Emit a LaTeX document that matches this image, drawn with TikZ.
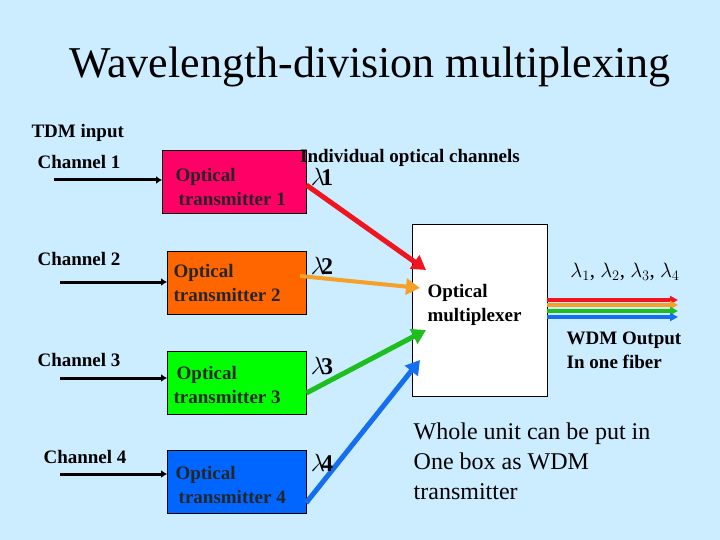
\documentclass[tikz,border=0pt]{standalone}
\usepackage{fontspec}
\setmainfont{Liberation Serif}
\usetikzlibrary{arrows.meta}
\definecolor{bg}{RGB}{204,236,255}
\definecolor{c1}{RGB}{255,0,102}
\definecolor{c2}{RGB}{255,102,0}
\definecolor{c3}{RGB}{0,255,0}
\definecolor{c4}{RGB}{0,102,255}
\definecolor{lr}{RGB}{240,20,30}
\definecolor{lo}{RGB}{245,160,40}
\definecolor{lg}{RGB}{30,190,30}
\definecolor{lb}{RGB}{20,110,240}
\begin{document}
\begin{tikzpicture}[x=1pt,y=-1pt,
  tx/.style={draw=black,minimum width=139pt,minimum height=63pt,anchor=north west,inner sep=0pt},
  lab/.style={font=\bfseries\fontsize{19}{24}\selectfont,align=left},
  inp/.style={line width=3pt,-{Latex[length=6pt,width=8pt]}},
  fat/.style={line width=5pt,-{Triangle[length=14pt,width=16pt]}},
  thin/.style={line width=4pt,-{Triangle[length=8pt,width=8pt]}},
  lam/.style={font=\bfseries\fontsize{24}{24}\selectfont}]
\fill[bg] (0,0) rectangle (720,540);
\useasboundingbox (0,0) rectangle (720,540);
\node (title) at (370,67) {\fontsize{44}{50}\selectfont Wavelength-division multiplexing};
\node[lab,anchor=west] (tdm) at (28,133) {TDM input};
\node[lab,anchor=west] (ch1) at (34,162) {Channel 1};
\node[lab,anchor=west] (ch2) at (34,259) {Channel 2};
\node[lab,anchor=west] (ch3) at (34,360) {Channel 3};
\node[lab,anchor=west] (ch4) at (40,457) {Channel 4};
\node[tx,fill=c1,minimum width=144pt] (t1) at (162,150) {};
\node[tx,fill=c2] (t2) at (167,251) {};
\node[tx,fill=c3] (t3) at (167,351) {};
\node[tx,fill=c4] (t4) at (167,450) {};
\node[lab,text=black!85,anchor=west] (x1) at (172,187) {Optical\\ \,transmitter 1};
\node[lab,text=black!85,anchor=west] (x2) at (170,283) {Optical\\transmitter 2};
\node[lab,text=black!85,anchor=west] (x3) at (170,385) {\,Optical\\transmitter 3};
\node[lab,text=black!85,anchor=west] (x4) at (172,485) {Optical\\ \,transmitter 4};
\coordinate (s1) at (54,180); \coordinate (s2) at (60,282);
\coordinate (s3) at (60,378); \coordinate (s4) at (60,474);
\draw[inp] (s1) -- (t1.west|-s1);
\draw[inp] (s2) -- (t2.west|-s2);
\draw[inp] (s3) -- (t3.west|-s3);
\draw[inp] (s4) -- (t4.west|-s4);
\node[draw=black,fill=white,minimum width=135pt,minimum height=172pt,anchor=north west,inner sep=0pt] (mux) at (412,224) {};
\node[lab,anchor=west] (muxl) at (424,305) {Optical\\multiplexer};
\coordinate (e1) at (426,270); \coordinate (e2) at (420,288);
\coordinate (e3) at (426,330); \coordinate (e4) at (420,360);
\draw[fat,lr] (t1.east|-0,185) -- (e1);
\draw[fat,lo,line width=4pt] (300,276) -- (e2);
\draw[fat,lg] (t3.east|-0,393) -- (e3);
\draw[fat,lb] (306,503) -- (e4);
\node[lab] (ind) at (410,158) {Individual optical channels};
\node[lam] (l1) at (322,177) {$\lambda$\kern-4pt1};
\node[lam] (l2) at (322,266) {$\lambda$\kern-4pt2};
\node[lam] (l3) at (322,366) {$\lambda$\kern-4pt3};
\node[lam] (l4) at (322,463) {$\lambda$\kern-4pt4};
\coordinate (o1) at (678,300); \coordinate (o2) at (678,305);
\coordinate (o3) at (678,311); \coordinate (o4) at (678,317);
\draw[thin,lr] (mux.east|-o1) -- (o1);
\draw[thin,lo] (mux.east|-o2) -- (o2);
\draw[thin,lg] (mux.east|-o3) -- (o3);
\draw[thin,lb] (mux.east|-o4) -- (o4);
\node (ol) at (625,272) {\fontsize{21}{21}\selectfont$\lambda_1$, $\lambda_2$, $\lambda_3$, $\lambda_4$};
\node[lab] (wdm) at (624,350) {WDM Output\\In one fiber};
\node[align=left,font=\fontsize{24}{30}\selectfont] (whole) at (532,461) {Whole unit can be put in\\One box as WDM\\transmitter};
\end{tikzpicture}
\end{document}
